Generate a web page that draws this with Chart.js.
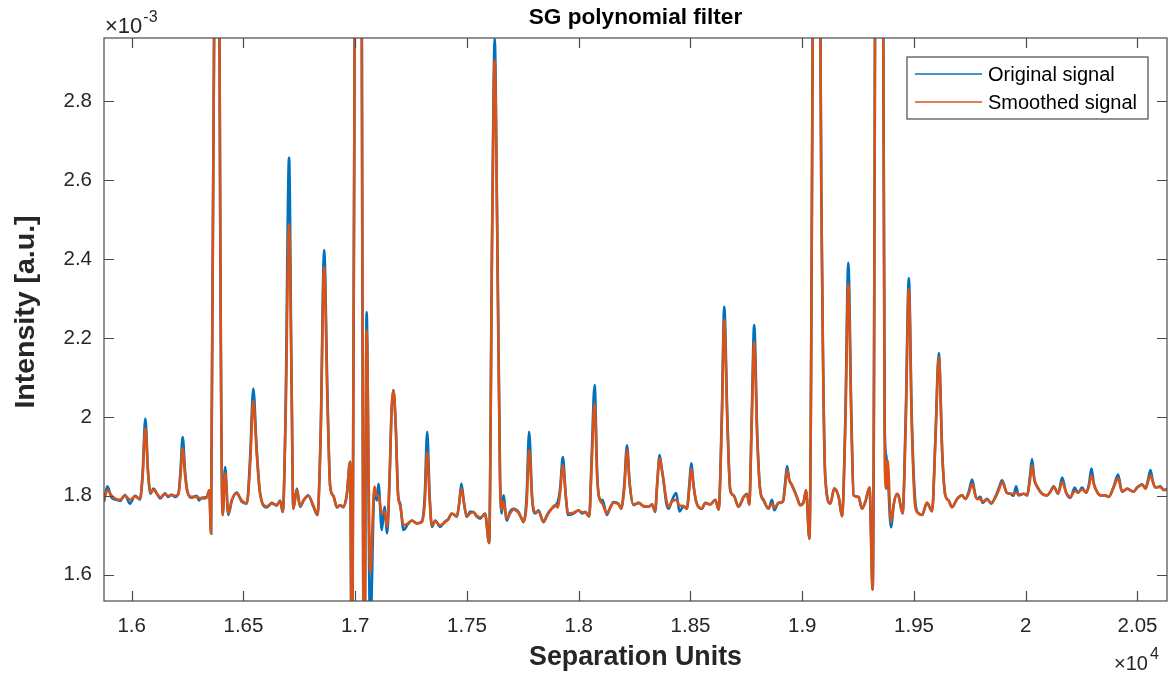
<!DOCTYPE html>
<html>
<head>
<meta charset="utf-8">
<script src="https://cdn.jsdelivr.net/npm/chart.js@4"></script>
<style>
  html, body { margin: 0; padding: 0; background: #fff; }
  canvas { display: block; }
</style>
</head>
<body>
<canvas id="grafico" width="1176" height="674"></canvas>
<script>
// separation units
const xs = [
  15876,15891,15910,15930,15948,15970,15992,16015,16037,16049,
  16061,16073,16084,16097,16113,16127,16149,16162,16179,16194,
  16209,16218,16228,16239,16249,16269,16291,16301,16313,16336,
  16347,16355,16370,16380,16392,16407,16418,16432,16448,16470,
  16492,16515,16530,16544,16559,16574,16604,16627,16649,16664,
  16676,16688,16704,16715,16723,16739,16753,16771,16790,16813,
  16831,16845,16861,16876,16888,16902,16918,16932,16947,16962,
  16977,16986,17004,17013,17024,17040,17051,17067,17086,17097,
  17104,17119,17131,17143,17154,17163,17171,17181,17192,17201,
  17216,17238,17253,17276,17298,17311,17322,17333,17343,17358,
  17380,17402,17416,17432,17455,17465,17475,17487,17499,17514,
  17529,17543,17559,17581,17599,17613,17624,17635,17648,17656,
  17663,17678,17693,17708,17730,17742,17753,17767,17778,17792,
  17805,17820,17842,17859,17872,17895,17907,17917,17929,17942,
  17952,17977,17999,18016,18029,18047,18058,18071,18083,18096,
  18106,18126,18141,18156,18178,18190,18204,18216,18228,18245,
  18268,18290,18312,18328,18342,18351,18362,18371,18379,18392,
  18402,18417,18436,18451,18469,18484,18495,18503,18515,18526,
  18551,18566,18589,18611,18626,18640,18651,18665,18678,18693,
  18715,18738,18753,18763,18774,18785,18799,18812,18827,18849,
  18865,18875,18894,18914,18923,18932,18942,18954,18976,18991,
  19006,19017,19032,19063,19085,19103,19126,19143,19163,19178,
  19193,19206,19220,19230,19252,19267,19282,19301,19315,19343,
  19369,19376,19382,19397,19410,19424,19431,19449,19463,19477,
  19490,19506,19521,19536,19558,19581,19596,19611,19627,19640,
  19655,19670,19693,19715,19730,19745,19760,19775,19782,19797,
  19807,19827,19846,19864,19880,19894,19916,19931,19945,19957,
  19968,19991,20006,20019,20028,20039,20051,20073,20096,20110,
  20125,20145,20163,20181,20200,20219,20234,20252,20270,20283,
  20294,20305,20312,20334,20356,20371,20394,20413,20431,20454,
  20483,20498,20521,20536,20547,20558,20569,20580,20603,20617,
  20640
];

// intensity, in units of 1e-3
const original = [
  1.785,1.824,1.795,1.79,1.787,1.802,1.780,1.800,1.790,1.86,
  1.996,1.86,1.805,1.818,1.805,1.793,1.806,1.797,1.803,1.797,
  1.806,1.86,1.949,1.86,1.812,1.795,1.800,1.788,1.795,1.797,
  1.814,1.704,3.1,6.0,3.1,1.751,1.873,1.751,1.788,1.808,
  1.785,1.780,1.90,2.072,1.92,1.808,1.770,1.782,1.775,1.788,
  1.759,2.0,2.657,2.1,1.767,1.818,1.772,1.79,1.801,1.772,
  1.751,1.95,2.423,2.05,1.823,1.80,1.770,1.776,1.771,1.801,
  1.886,1.2,4.2,4.5,4.0,1.2,2.265,1.45,1.81,1.788,
  1.83,1.713,1.772,1.705,1.85,2.02,2.068,1.98,1.80,1.78,
  1.713,1.73,1.737,1.73,1.735,1.80,1.962,1.80,1.721,1.737,
  1.721,1.735,1.74,1.755,1.747,1.78,1.831,1.78,1.746,1.76,
  1.759,1.748,1.742,1.755,1.68,2.5,2.96,2.5,1.85,1.755,
  1.801,1.737,1.76,1.767,1.759,1.745,1.733,1.80,1.962,1.79,
  1.755,1.763,1.733,1.752,1.763,1.776,1.786,1.82,1.898,1.80,
  1.751,1.755,1.763,1.755,1.759,1.747,1.90,2.081,1.85,1.788,
  1.79,1.751,1.77,1.784,1.78,1.767,1.83,1.928,1.83,1.776,
  1.782,1.773,1.772,1.778,1.759,1.83,1.903,1.87,1.84,1.78,
  1.767,1.788,1.807,1.76,1.773,1.767,1.83,1.882,1.82,1.784,
  1.767,1.782,1.778,1.79,1.765,2.0,2.279,2.0,1.814,1.801,
  1.772,1.797,1.805,1.778,2.0,2.233,1.95,1.814,1.788,1.767,
  1.79,1.763,1.782,1.786,1.83,1.875,1.84,1.827,1.797,1.776,
  1.784,1.814,1.691,4.5,2.6,1.848,1.78,1.818,1.797,1.748,
  2.0,2.391,2.0,1.801,1.797,1.767,1.784,1.821,1.562,6.0,
  1.971,1.90,1.86,1.72,1.78,1.805,1.80,1.755,2.0,2.352,
  2.0,1.784,1.755,1.751,1.782,1.761,1.95,2.162,1.9,1.801,
  1.788,1.771,1.792,1.801,1.792,1.81,1.841,1.80,1.792,1.797,
  1.782,1.792,1.78,1.797,1.82,1.839,1.807,1.805,1.80,1.824,
  1.801,1.805,1.801,1.85,1.893,1.84,1.823,1.805,1.801,1.81,
  1.824,1.805,1.846,1.807,1.795,1.821,1.807,1.821,1.807,1.83,
  1.869,1.83,1.818,1.801,1.801,1.797,1.824,1.854,1.81,1.818,
  1.81,1.821,1.829,1.818,1.84,1.865,1.835,1.821,1.824,1.814,
  1.818
];

const smoothed = [
  1.790,1.814,1.800,1.792,1.790,1.800,1.790,1.798,1.792,1.85,
  1.971,1.86,1.808,1.815,1.805,1.796,1.804,1.80,1.801,1.80,
  1.804,1.85,1.920,1.85,1.81,1.797,1.797,1.795,1.793,1.795,
  1.814,1.704,3.1,6.0,3.1,1.751,1.857,1.755,1.790,1.806,
  1.788,1.781,1.88,2.041,1.91,1.806,1.773,1.780,1.777,1.786,
  1.759,1.98,2.489,2.1,1.767,1.815,1.775,1.79,1.80,1.775,
  1.752,1.94,2.38,2.03,1.823,1.80,1.772,1.776,1.773,1.801,
  1.886,1.2,4.2,4.5,4.0,1.2,2.22,1.604,1.823,1.80,
  1.80,1.755,1.76,1.721,1.85,2.02,2.068,1.98,1.80,1.775,
  1.725,1.73,1.737,1.73,1.733,1.78,1.911,1.79,1.725,1.735,
  1.725,1.733,1.74,1.755,1.748,1.78,1.818,1.78,1.748,1.755,
  1.758,1.75,1.745,1.753,1.68,2.48,2.905,2.48,1.83,1.765,
  1.785,1.742,1.755,1.765,1.757,1.745,1.735,1.78,1.916,1.79,
  1.758,1.76,1.735,1.75,1.762,1.776,1.77,1.81,1.877,1.80,
  1.755,1.757,1.762,1.758,1.758,1.748,1.88,2.034,1.84,1.788,
  1.78,1.755,1.77,1.783,1.778,1.768,1.82,1.916,1.83,1.778,
  1.782,1.774,1.772,1.777,1.762,1.83,1.895,1.87,1.84,1.79,
  1.772,1.785,1.79,1.775,1.774,1.768,1.82,1.869,1.82,1.784,
  1.768,1.781,1.778,1.789,1.765,1.98,2.246,1.98,1.814,1.801,
  1.773,1.797,1.803,1.778,1.98,2.19,1.94,1.814,1.79,1.768,
  1.78,1.77,1.781,1.785,1.82,1.865,1.84,1.827,1.797,1.776,
  1.784,1.814,1.691,4.5,2.6,1.848,1.78,1.818,1.797,1.748,
  1.98,2.337,1.98,1.801,1.797,1.767,1.784,1.821,1.562,6.0,
  1.89,1.818,1.89,1.733,1.78,1.805,1.80,1.755,1.98,2.324,
  1.98,1.77,1.755,1.751,1.782,1.761,1.94,2.152,1.9,1.801,
  1.788,1.771,1.792,1.801,1.792,1.805,1.831,1.80,1.792,1.792,
  1.785,1.79,1.782,1.795,1.815,1.835,1.807,1.805,1.805,1.808,
  1.803,1.805,1.801,1.84,1.877,1.84,1.823,1.805,1.801,1.81,
  1.822,1.806,1.835,1.808,1.797,1.812,1.808,1.816,1.808,1.825,
  1.852,1.83,1.818,1.801,1.801,1.797,1.822,1.844,1.811,1.817,
  1.81,1.82,1.828,1.818,1.835,1.852,1.835,1.821,1.822,1.815,
  1.818
];

const xTicks = [16000,16500,17000,17500,18000,18500,19000,19500,20000,20500];
const yTicks = [1.6,1.8,2,2.2,2.4,2.6,2.8];
const xRange = [15876, 20632];
const yRange = [1.533, 2.961];

const FONT = '"Liberation Sans", Arial, Helvetica, sans-serif';
const TXT = '#262626';

function pontos(ys) {
    return xs.map((x, i) => ({x: x, y: ys[i]}));
}

// box, inward ticks, titles, exponents and legend, MATLAB style
const moldura = {
    id: 'moldura',
    afterDraw(chart) {
        const ctx = chart.ctx;
        const a = chart.chartArea;
        const sx = chart.scales.x, sy = chart.scales.y;
        ctx.save();
        ctx.strokeStyle = '#4a4a4a';
        ctx.lineWidth = 1.2;
        ctx.strokeRect(a.left, a.top, a.right - a.left, a.bottom - a.top);

        ctx.beginPath();
        xTicks.forEach(v => {
            const p = Math.round(sx.getPixelForValue(v)) + 0.5;
            ctx.moveTo(p, a.bottom); ctx.lineTo(p, a.bottom - 10);
            ctx.moveTo(p, a.top); ctx.lineTo(p, a.top + 10);
        });
        yTicks.forEach(v => {
            const p = Math.round(sy.getPixelForValue(v)) + 0.5;
            ctx.moveTo(a.left, p); ctx.lineTo(a.left + 10, p);
            ctx.moveTo(a.right, p); ctx.lineTo(a.right - 10, p);
        });
        ctx.stroke();

        const meio = (a.left + a.right) / 2;
        ctx.fillStyle = '#000';
        ctx.textAlign = 'center';
        ctx.textBaseline = 'alphabetic';
        ctx.font = 'bold 22.6px ' + FONT;
        ctx.fillText('SG polynomial filter', meio, 24);

        ctx.fillStyle = TXT;
        ctx.font = 'bold 26.8px ' + FONT;
        ctx.fillText('Separation Units', meio, 665);

        ctx.save();
        ctx.translate(34, 312);
        ctx.rotate(-Math.PI / 2);
        ctx.font = 'bold 28.5px ' + FONT;
        ctx.fillText('Intensity [a.u.]', 0, 0);
        ctx.restore();

        // exponent labels
        ctx.textAlign = 'left';
        ctx.font = '22px ' + FONT;
        ctx.fillText('\u00d710', a.left + 1, 33);
        let w = ctx.measureText('\u00d710').width;
        ctx.font = '16px ' + FONT;
        ctx.fillText('-3', a.left + 1 + w + 1, 22);

        ctx.font = '20px ' + FONT;
        ctx.fillText('\u00d710', 1114, 670);
        w = ctx.measureText('\u00d710').width;
        ctx.font = '16px ' + FONT;
        ctx.fillText('4', 1114 + w + 2, 659);

        // legend
        const lx = 907, ly = 57, lw = 241, lh = 62;
        ctx.fillStyle = '#fff';
        ctx.fillRect(lx, ly, lw, lh);
        ctx.strokeStyle = '#4a4a4a';
        ctx.lineWidth = 1.2;
        ctx.strokeRect(lx, ly, lw, lh);
        const itens = [chart.data.datasets[1], chart.data.datasets[0]];
        itens.forEach((ds, i) => {
            const yy = 74 + i * 28;
            ctx.strokeStyle = ds.borderColor;
            ctx.lineWidth = 1.6;
            ctx.beginPath();
            ctx.moveTo(915, yy); ctx.lineTo(982, yy);
            ctx.stroke();
            ctx.fillStyle = '#000';
            ctx.font = '20px ' + FONT;
            ctx.textBaseline = 'middle';
            ctx.fillText(ds.label, 988, yy + 1);
        });
        ctx.restore();
    }
};

function grafico() {
    const ctx = document.getElementById('grafico');

    new Chart(ctx, {
        type: 'line',
        data: {
            datasets: [{
                label: 'Smoothed signal',
                data: pontos(smoothed),
                borderColor: '#D95319',
                borderWidth: 2.6,
                order: 0
            }, {
                label: 'Original signal',
                data: pontos(original),
                borderColor: '#0072BD',
                borderWidth: 2.6,
                order: 1
            }]
        },
        options: {
            responsive: false,
            animation: false,
            devicePixelRatio: 1,
            parsing: false,
            elements: {
                point: { radius: 0 },
                line: { tension: 0, cubicInterpolationMode: 'monotone', fill: false }
            },
            datasets: { line: { clip: 0 } },
            layout: { padding: { top: 38, right: 9, left: 0, bottom: 0 } },
            plugins: {
                legend: { display: false },
                title: { display: false },
                tooltip: { enabled: false }
            },
            scales: {
                x: {
                    type: 'linear',
                    min: xRange[0],
                    max: xRange[1],
                    grid: { display: false, drawTicks: false },
                    border: { display: false },
                    afterBuildTicks: s => { s.ticks = xTicks.map(v => ({value: v})); },
                    afterFit: s => { s.height = 73; },
                    ticks: {
                        autoSkip: false,
                        maxRotation: 0,
                        padding: 13,
                        color: TXT,
                        font: { family: FONT, size: 20.5 },
                        callback: v => String(+(v / 1e4).toFixed(2))
                    }
                },
                y: {
                    type: 'linear',
                    min: yRange[0],
                    max: yRange[1],
                    grid: { display: false, drawTicks: false },
                    border: { display: false },
                    afterBuildTicks: s => { s.ticks = yTicks.map(v => ({value: v})); },
                    afterFit: s => { s.width = 104; },
                    ticks: {
                        autoSkip: false,
                        padding: 12,
                        color: TXT,
                        font: { family: FONT, size: 20.5 },
                        callback: v => String(v)
                    }
                }
            }
        },
        plugins: [moldura]
    });
}

grafico();
</script>
</body>
</html>
